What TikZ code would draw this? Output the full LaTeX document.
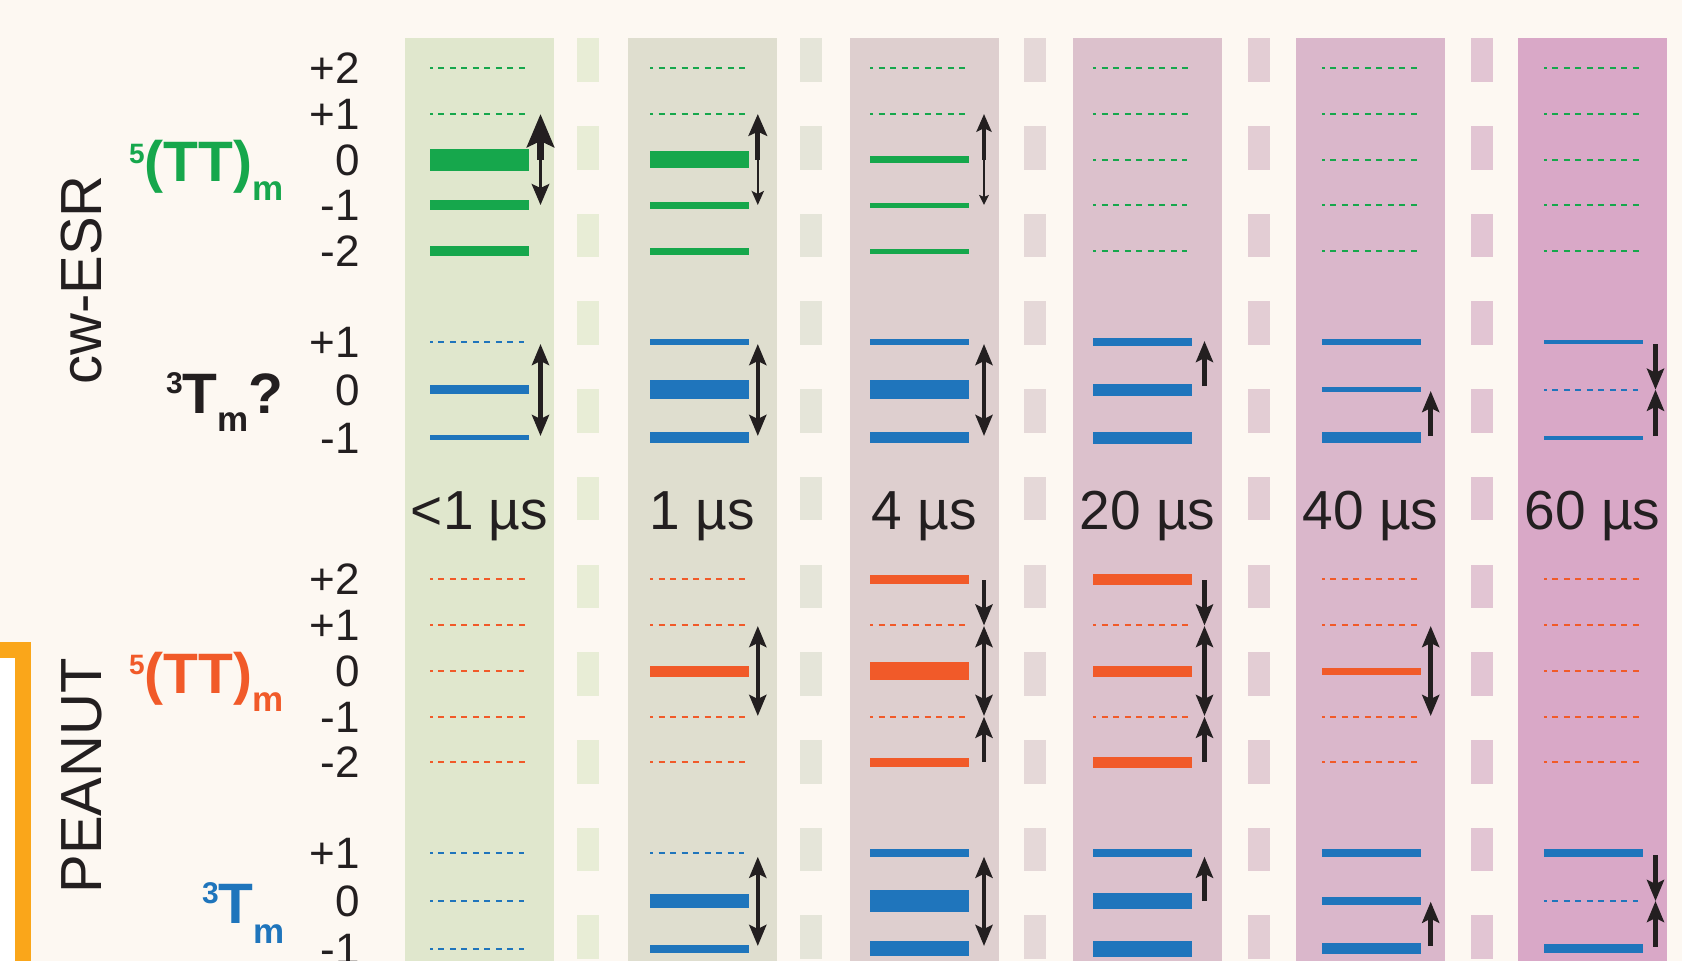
\documentclass[tikz,border=0pt]{standalone}
\usepackage{fontspec}
\setmainfont{Liberation Sans}
\usetikzlibrary{arrows.meta}
\definecolor{bg}{RGB}{253,248,242}
\definecolor{ink}{RGB}{35,31,32}
\definecolor{cgreen}{RGB}{22,167,76}
\definecolor{cblue}{RGB}{31,117,188}
\definecolor{corange}{RGB}{241,90,41}
\definecolor{cbracket}{RGB}{250,166,26}
\definecolor{colA}{RGB}{224,231,205}
\definecolor{colB}{RGB}{223,222,207}
\definecolor{colC}{RGB}{222,207,207}
\definecolor{colD}{RGB}{220,193,204}
\definecolor{colE}{RGB}{218,183,203}
\definecolor{colF}{RGB}{217,168,199}
\definecolor{gapA}{RGB}{232,237,214}
\definecolor{gapB}{RGB}{229,229,217}
\definecolor{gapC}{RGB}{229,216,216}
\definecolor{gapD}{RGB}{227,205,212}
\definecolor{gapE}{RGB}{226,197,211}
% level line: #1 x start, #2 y, #3 thickness (0 = dashed, -1 = shorter dashed), #4 colour
\newcommand\EL[4]{\ifdim #3pt<0pt \draw[#4,dlev] (#1,#2) -- ++(94,0);\else
  \ifdim #3pt=0pt \draw[#4,dlev] (#1,#2) -- ++(98.5,0);\else
  \draw[#4,line width=#3pt] (#1,#2) -- ++(98.5,0);\fi\fi}
\newcommand\FS[1]{\fontsize{#1}{#1}\selectfont}
\begin{document}
\begin{tikzpicture}[x=1pt,y=-1pt,
  every node/.style={inner sep=0pt,text=ink},
  dlev/.style={line width=2pt,dash pattern=on 5.9pt off 5.6pt,dash phase=3.1pt},
  tipn/.tip={Stealth[length=21pt,width=17pt,inset=4pt]},
  onear/.style={draw=ink,line width=4.5pt,-tipn},
  twoar/.style={draw=ink,line width=4.5pt,tipn-tipn},
  numlab/.style={anchor=base east,font=\FS{44}},
  timelab/.style={anchor=base,font=\FS{55}},
  sidelab/.style={rotate=90,anchor=base,font=\FS{58}},
  statelab/.style={anchor=base west,font=\bfseries}]
\useasboundingbox (0,0) rectangle (1682,961);
\fill[bg] (0,0) rectangle (1682,961);
% bracket at the left
\fill[white] (0,658) rectangle (15,961);
\fill[cbracket] (0,642) rectangle (31,658);
\fill[cbracket] (15,642) rectangle (31,961);
% column bands
\foreach \x/\c in {405/colA,628/colB,850/colC,1073/colD,1296/colE,1518/colF}
  \fill[\c] (\x,38.3) rectangle ++(149,923);
% dashed separators
\foreach \x/\c in {576.5/gapA,800/gapB,1024/gapC,1247.5/gapD,1471/gapE}
  \foreach \k in {0,...,10}
    \fill[\c] (\x,{38.3+87.7*\k}) rectangle ++(22,43.6);
% ---------- levels ----------
% upper green 5(TT)m : y 68,114,159.5,205,251
\foreach \s/\a/\b/\c/\d/\e in {430/0/0/22/9.3/9.3, 650.3/0/0/17.7/7/7, 870.3/0/0/7.3/5/5,
  1093.4/0/0/-1/-1/-1, 1322/0/0/0/0/0, 1544/0/0/0/0/0}{
  \EL{\s}{68}{\a}{cgreen}\EL{\s}{114}{\b}{cgreen}\EL{\s}{159.5}{\c}{cgreen}
  \EL{\s}{205}{\d}{cgreen}\EL{\s}{251}{\e}{cgreen}}
% upper blue 3Tm : y 342,389.7,437.7
\foreach \s/\a/\b/\c in {430/-1/9/4.7, 650.3/5.7/18.7/11.3, 870.3/5.7/18.7/11.3,
  1093.4/7.3/12/12, 1322/5.7/5.3/11.3, 1544/4.3/-1/4.3}{
  \EL{\s}{342}{\a}{cblue}\EL{\s}{389.7}{\b}{cblue}\EL{\s}{437.7}{\c}{cblue}}
% lower orange 5(TT)m : y 579.3,625.3,671,716.7,762.3
\foreach \s/\a/\b/\c/\d/\e in {430/0/0/-1/0/0, 650.3/0/0/11/0/0, 870.3/9.3/0/17.7/0/9,
  1093.4/11/0/11/0/11, 1322/0/0/7/0/0, 1544/0/0/0/0/0}{
  \EL{\s}{579.3}{\a}{corange}\EL{\s}{625.3}{\b}{corange}\EL{\s}{671}{\c}{corange}
  \EL{\s}{716.7}{\d}{corange}\EL{\s}{762.3}{\e}{corange}}
% lower blue 3Tm : y 853,901,948.7
\foreach \s/\a/\b/\c in {430/-1/-1/-1, 650.3/-1/13.3/8.3, 870.3/7.3/22.7/14.7,
  1093.4/7.3/16.7/16.3, 1322/7.3/7.3/11.3, 1544/7.3/-1/8.7}{
  \EL{\s}{853}{\a}{cblue}\EL{\s}{901}{\b}{cblue}\EL{\s}{948.7}{\c}{cblue}}
% ---------- arrows ----------
% upper green
\draw[draw=ink,line width=6.7pt,-{Stealth[length=33pt,width=27pt,inset=6pt]}] (540.5,159.5) -- (540.5,114);
\draw[draw=ink,line width=3pt,-{Stealth[length=21pt,width=17.6pt,inset=4pt]}] (540.5,159.3) -- (540.5,205);
\draw[draw=ink,line width=5pt,-{Stealth[length=21.7pt,width=18.4pt,inset=4pt]}] (757.8,159.5) -- (757.8,114);
\draw[draw=ink,line width=2.5pt,-{Stealth[length=14pt,width=12.2pt,inset=3pt]}] (757.8,159.3) -- (757.8,205);
\draw[draw=ink,line width=4pt,-{Stealth[length=17.7pt,width=15pt,inset=3.5pt]}] (984,159.5) -- (984,114);
\draw[draw=ink,line width=2pt,-{Stealth[length=10pt,width=9.7pt,inset=2pt]}] (984,159.3) -- (984,205);
% upper blue
\foreach \a in {540.5,757.8,984} \draw[twoar] (\a,344) -- (\a,436);
\draw[onear] (1204.5,386) -- (1204.5,341);
\draw[onear] (1430.7,436) -- (1430.7,391);
\draw[onear] (1655.5,344) -- (1655.5,389.7);
\draw[onear] (1655.5,436) -- (1655.5,389.7);
% lower orange
\draw[twoar] (757.8,626) -- (757.8,716);
\foreach \a in {984,1204.5}{
  \draw[onear] (\a,580) -- (\a,625.5);
  \draw[twoar] (\a,626) -- (\a,716);
  \draw[onear] (\a,762) -- (\a,716.7);}
\draw[twoar] (1430.7,626) -- (1430.7,716);
% lower blue
\foreach \a in {757.8,984} \draw[twoar] (\a,856.7) -- (\a,946);
\draw[onear] (1204.5,901) -- (1204.5,856.7);
\draw[onear] (1430.7,946) -- (1430.7,901.7);
\draw[onear] (1655.5,855) -- (1655.5,901);
\draw[onear] (1655.5,946.7) -- (1655.5,901);
% ---------- labels ----------
\node[sidelab] (cwesr) at (101.4,280) {cw-ESR};
\node[sidelab] (peanut) at (101.4,776) {PEANUT};
\node[statelab,text=cgreen] (ttup) at (129,181.7)
  {\FS{28}\raisebox{18.7pt}{5}\FS{57}(TT)\FS{35}\raisebox{-18.3pt}{m}};
\node[statelab] (tup) at (166,413.3)
  {\FS{30}\raisebox{20pt}{3}\FS{57}T\FS{35}\raisebox{-18.4pt}{m}\FS{57}?};
\node[statelab,text=corange] (ttlow) at (129,693.5)
  {\FS{28}\raisebox{18.7pt}{5}\FS{57}(TT)\FS{35}\raisebox{-18.3pt}{m}};
\node[statelab,text=cblue] (tlow) at (202,923)
  {\FS{30}\raisebox{19.7pt}{3}\FS{57}T\FS{35}\raisebox{-20pt}{m}};
% m_s numbers
\foreach \y/\t [count=\i] in {68/+2,114/+1,159.5/0,205/-1,251/-2}
  \node[numlab] (ng\i) at (360,\y+15.5) {\t};
\foreach \y/\t [count=\i] in {342/+1,389.7/0,437.7/-1}
  \node[numlab] (nb\i) at (360,\y+15.5) {\t};
\foreach \y/\t [count=\i] in {579.3/+2,625.3/+1,671/0,716.7/-1,762.3/-2}
  \node[numlab] (no\i) at (360,\y+15.5) {\t};
\foreach \y/\t [count=\i] in {853/+1,901/0,948.7/-1}
  \node[numlab] (nl\i) at (360,\y+15.5) {\t};
% time labels
\foreach \x/\t [count=\i] in {479.5/<1 µs,702.5/1 µs,924.5/4 µs,1147.5/20 µs,1370.5/40 µs,1592.5/60 µs}
  \node[timelab] (time\i) at (\x,529.3) {\t};
\end{tikzpicture}
\end{document}
